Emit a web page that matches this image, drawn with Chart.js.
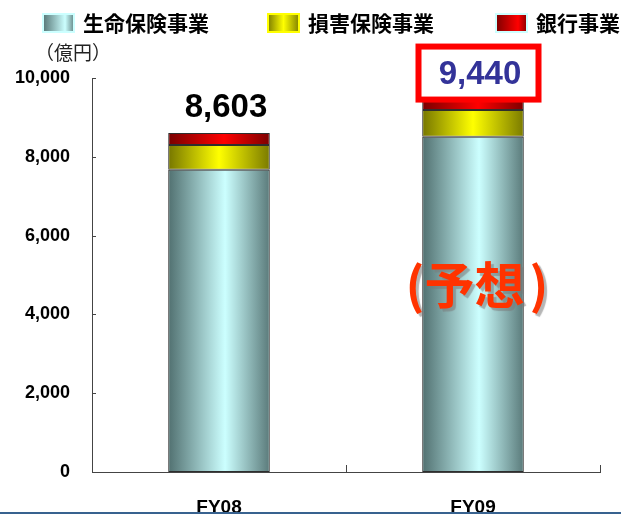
<!DOCTYPE html>
<html>
<head>
<meta charset="utf-8">
<script src="https://cdn.jsdelivr.net/npm/chart.js@4/dist/chart.umd.min.js"></script>
<style>
  html, body { margin: 0; padding: 0; background: #fff; overflow: hidden; }
  canvas { display: block; }
</style>
</head>
<body>
<canvas id="c" width="621" height="514"></canvas>
<script>
// Business segments, in 億円
const categories = ['FY08', 'FY09'];
const seriesNames = ['生命保険事業', '損害保険事業', '銀行事業'];
const lifeInsurance = [7670, 8510];
const nonLifeInsurance = [630, 680];
const banking = [303, 250];
const yTickValues = [0, 2000, 4000, 6000, 8000, 10000];
const unitLabel = '（億円）';
const forecastMark = ['(', '予想', ')'];
const forecastIndex = 1;

const series = [lifeInsurance, nonLifeInsurance, banking];
const totals = categories.map((_, i) => series.reduce((sum, s) => sum + s[i], 0));

// Metallic shading for each segment: dark edge -> bright core -> dark edge
const shades = [
  { dark: '#517070', light: '#ccffff', edge: '#5a7a7a', border: '#ccffff', peak: 0.56 },
  { dark: '#767600', light: '#ffff00', edge: '#7a7a00', border: '#ffff00', peak: 0.5 },
  { dark: '#780000', light: '#ff0000', edge: '#7c0000', border: '#ccffff', peak: 0.55 }
];

function hGradient(ctx, x0, x1, s, peak) {
  const g = ctx.createLinearGradient(x0, 0, x1, 0);
  g.addColorStop(0, s.dark);
  g.addColorStop(peak, s.light);
  g.addColorStop(1, s.edge);
  return g;
}

const barShading = {
  id: 'barShading',
  beforeDatasetsDraw(chart) {
    const ctx = chart.ctx;
    chart.data.datasets.forEach((ds, di) => {
      chart.getDatasetMeta(di).data.forEach(el => {
        const { x, width } = el.getProps(['x', 'width'], true);
        el.options.backgroundColor = hGradient(ctx, x - width / 2, x + width / 2, shades[di], shades[di].peak);
      });
    });
  }
};

const decor = {
  id: 'decor',
  afterDraw(chart) {
    const { ctx, chartArea: a, scales: { y } } = chart;
    ctx.save();

    // inward tick marks on both axes
    ctx.strokeStyle = '#444';
    ctx.lineWidth = 1;
    ctx.beginPath();
    yTickValues.forEach(v => {
      const py = Math.round(y.getPixelForValue(v)) + 0.5;
      ctx.moveTo(a.left, py);
      ctx.lineTo(a.left + 4, py);
    });
    for (let i = 1; i <= categories.length; i++) {
      const px = Math.round(a.left + (a.right - a.left) * i / categories.length) + 0.5;
      ctx.moveTo(px, a.bottom);
      ctx.lineTo(px, a.bottom - 7);
    }
    ctx.stroke();

    // legend
    const legendX = [42, 267, 495];
    seriesNames.forEach((name, i) => {
      const sx = legendX[i], sy = 13, sw = 33, sh = 20;
      ctx.fillStyle = hGradient(ctx, sx, sx + sw, shades[i], i === 1 ? 0.5 : 0.7);
      ctx.fillRect(sx, sy, sw, sh);
      ctx.strokeStyle = shades[i].border;
      ctx.lineWidth = 2;
      ctx.strokeRect(sx + 1, sy + 1, sw - 2, sh - 2);
      ctx.fillStyle = '#000';
      ctx.font = 'bold 21px "Noto Sans CJK JP"';
      ctx.textAlign = 'left';
      ctx.textBaseline = 'middle';
      ctx.fillText(name, sx + 41, sy + 10);
    });

    // unit
    ctx.fillStyle = '#222';
    ctx.font = '19px "Noto Sans CJK JP"';
    ctx.textAlign = 'center';
    ctx.textBaseline = 'middle';
    ctx.fillText(unitLabel, 73, 53);

    // totals above each stack
    const topMeta = chart.getDatasetMeta(series.length - 1);
    totals.forEach((t, i) => {
      const bar = topMeta.data[i];
      const cx = bar.x + 7;
      const cy = y.getPixelForValue(t) - 25;
      if (i === forecastIndex) {
        ctx.fillStyle = '#fff';
        ctx.fillRect(cx - 61.5, cy - 28.5, 120, 53);
        ctx.strokeStyle = '#ff0000';
        ctx.lineWidth = 6;
        ctx.strokeRect(cx - 61.5, cy - 28.5, 120, 53);
      }
      ctx.fillStyle = i === forecastIndex ? '#333399' : '#000';
      ctx.font = 'bold 33px "Liberation Sans"';
      ctx.textAlign = 'center';
      ctx.textBaseline = 'middle';
      ctx.fillText(t.toLocaleString('en-US'), cx, cy);
    });

    // forecast tag on the FY09 bar
    const fb = topMeta.data[forecastIndex];
    const fy = a.top + (a.bottom - a.top) * 0.525;
    ctx.shadowColor = 'rgba(120,120,120,0.55)';
    ctx.shadowOffsetX = 3;
    ctx.shadowOffsetY = 3;
    ctx.shadowBlur = 1;
    ctx.fillStyle = '#ff3300';
    ctx.font = 'bold 50px "Noto Sans CJK JP"';
    ctx.textAlign = 'center';
    ctx.textBaseline = 'middle';
    ctx.fillText(forecastMark[0], fb.x - 58, fy);
    ctx.fillText(forecastMark[1], fb.x + 1.5, fy);
    ctx.fillText(forecastMark[2], fb.x + 66, fy);
    ctx.shadowColor = 'transparent';

    // rule along the bottom edge
    ctx.fillStyle = '#38628f';
    ctx.fillRect(0, 512, chart.width, 2);
    ctx.restore();
  }
};

new Chart(document.getElementById('c'), {
  type: 'bar',
  data: {
    labels: categories,
    datasets: series.map((d, i) => ({
      label: seriesNames[i],
      data: d,
      backgroundColor: () => shades[i].light,
      borderColor: '#2e2e2e',
      borderWidth: 1,
      borderSkipped: false,
      barPercentage: 0.4,
      categoryPercentage: 1
    }))
  },
  options: {
    responsive: false,
    animation: false,
    devicePixelRatio: 1,
    layout: { padding: { top: 78, right: 21, left: 0, bottom: 0 } },
    plugins: { legend: { display: false }, tooltip: { enabled: false } },
    scales: {
      x: {
        stacked: true,
        grid: { display: false, drawTicks: false },
        border: { display: true, color: '#444', width: 1 },
        ticks: { color: '#000', font: { family: 'Liberation Sans', size: 19, weight: 'bold' }, padding: 24 },
        afterFit: s => { s.height = 42; }
      },
      y: {
        stacked: true,
        min: 0,
        max: 10000,
        grid: { display: false, drawTicks: false },
        border: { display: true, color: '#444', width: 1 },
        afterBuildTicks: s => { s.ticks = yTickValues.map(v => ({ value: v })); },
        ticks: {
          color: '#000',
          font: { family: 'Liberation Sans', size: 18, weight: 'bold' },
          padding: 22,
          callback: v => v.toLocaleString('en-US')
        },
        afterFit: s => { s.width = 92; }
      }
    }
  },
  plugins: [barShading, decor]
});
</script>
</body>
</html>
